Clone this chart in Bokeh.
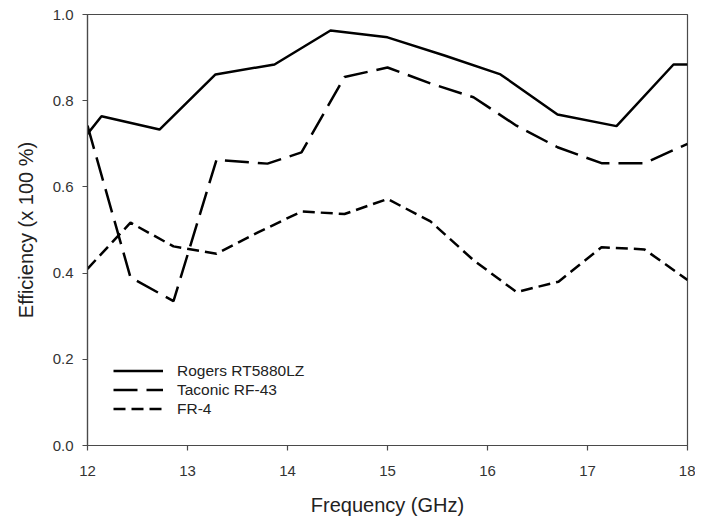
from bokeh.plotting import figure
from bokeh.models import FixedTicker, PrintfTickFormatter, Range1d, Legend, LegendItem
from bokeh.embed import file_html
from bokeh.resources import INLINE

freq_rogers = [12.0, 12.14, 12.72, 13.28, 13.87, 14.43, 15.0, 15.57, 16.13, 16.70, 17.29, 17.86, 18.0]
eff_rogers = [0.723, 0.764, 0.733, 0.861, 0.884, 0.963, 0.947, 0.905, 0.861, 0.768, 0.741, 0.884, 0.884]

freq_taconic = [12.0, 12.43, 12.86, 13.29, 13.80, 14.14, 14.57, 15.0, 15.43, 15.86, 16.29, 16.70, 17.14, 17.57, 18.0]
eff_taconic = [0.742, 0.39, 0.335, 0.663, 0.654, 0.68, 0.855, 0.877, 0.84, 0.808, 0.742, 0.692, 0.655, 0.655, 0.70]

freq_fr4 = [12.0, 12.43, 12.86, 13.29, 13.71, 14.14, 14.57, 15.0, 15.43, 15.86, 16.29, 16.71, 17.14, 17.57, 18.0]
eff_fr4 = [0.41, 0.517, 0.462, 0.445, 0.495, 0.543, 0.537, 0.572, 0.52, 0.43, 0.356, 0.38, 0.46, 0.455, 0.384]

x_ticks = [12, 13, 14, 15, 16, 17, 18]
y_ticks = [0.0, 0.2, 0.4, 0.6, 0.8, 1.0]

FONT = "Liberation Sans"
AX = "#4a4a4a"

p = figure(width=695, height=519, output_backend="svg", toolbar_location=None,
           x_range=Range1d(12, 18), y_range=Range1d(0, 1),
           min_border_left=87, min_border_right=8, min_border_top=14, min_border_bottom=74)
p.xgrid.visible = False
p.ygrid.visible = False
p.outline_line_color = AX
p.outline_line_width = 1.2

for ax in (p.xaxis[0], p.yaxis[0]):
    ax.axis_line_color = AX
    ax.axis_line_width = 1.2
    ax.major_tick_line_color = AX
    ax.major_tick_line_width = 1.2
    ax.major_tick_out = 5
    ax.major_tick_in = 0
    ax.minor_tick_line_color = None
    ax.major_label_text_font = FONT
    ax.major_label_text_font_size = "15px"
    ax.major_label_text_color = "#333333"
    ax.axis_label_text_font = FONT
    ax.axis_label_text_font_size = "20px"
    ax.axis_label_text_font_style = "normal"
    ax.axis_label_text_color = "#222222"

p.xaxis.ticker = FixedTicker(ticks=x_ticks)
p.yaxis.ticker = FixedTicker(ticks=y_ticks)
p.xaxis.formatter = PrintfTickFormatter(format="%d")
p.yaxis.formatter = PrintfTickFormatter(format="%.1f")
p.xaxis.axis_label = "Frequency (GHz)"
p.yaxis.axis_label = "Efficiency (x 100 %)"
p.xaxis.major_label_standoff = 15
p.yaxis.major_label_standoff = 9
p.xaxis.axis_label_standoff = 15
p.yaxis.axis_label_standoff = 13

r1 = p.line(freq_rogers, eff_rogers, line_color="black", line_width=2.5)
r2 = p.line(freq_taconic, eff_taconic, line_color="black", line_width=2.5, line_dash="24 9")
r3 = p.line(freq_fr4, eff_fr4, line_color="black", line_width=2.5, line_dash="12 6")

legend = Legend(items=[LegendItem(label="Rogers RT5880LZ", renderers=[r1]),
                       LegendItem(label="Taconic RF-43", renderers=[r2]),
                       LegendItem(label="FR-4", renderers=[r3])],
                location=(26, 27), padding=0, margin=0, spacing=0,
                glyph_width=50, glyph_height=19, label_height=19, label_standoff=14,
                label_text_font=FONT, label_text_font_size="15.5px", label_text_color="#222222",
                border_line_color=None, background_fill_alpha=0)
p.add_layout(legend, "center")

open("out.html", "w").write(file_html(p, INLINE))
